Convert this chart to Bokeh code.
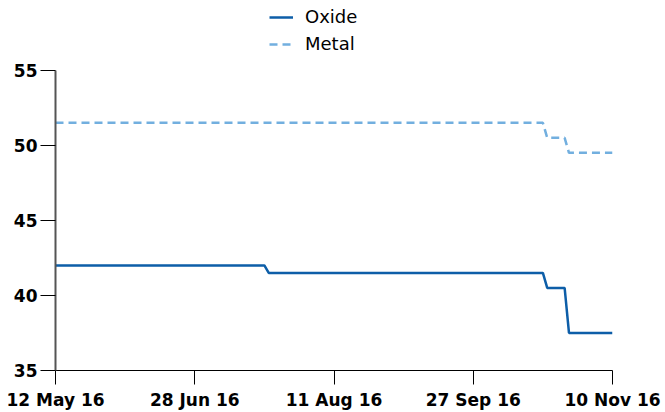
from bokeh.plotting import figure
from bokeh.models import Legend, LegendItem, FixedTicker, Range1d
from bokeh.embed import file_html
from bokeh.resources import INLINE

# x axis is an evenly spaced period index; labels at fixed index positions
tick_pos = [0, 32, 64, 96, 128]
tick_labels = ["12 May 16", "28 Jun 16", "11 Aug 16", "27 Sep 16", "10 Nov 16"]

oxide_x = [0, 48, 49, 112, 113, 117, 118, 128]
oxide_y = [42, 42, 41.5, 41.5, 40.5, 40.5, 37.5, 37.5]

metal_x = [0, 112, 113, 117, 118, 128]
metal_y = [51.5, 51.5, 50.5, 50.5, 49.5, 49.5]

y_ticks = [35, 40, 45, 50, 55]

FONT = "DejaVu Sans"
OXIDE = "#0d5ea8"
METAL = "#72afdf"

W, H = 665, 412
BORDER_B = 41
# frame reaches the top edge so the legend can sit above the 55 line;
# keep 20 value units per 301 px of frame height
frame_h = H - BORDER_B
y_top = 35 + 20 * frame_h / 301

p = figure(width=W, height=H, output_backend="svg", toolbar_location=None,
           x_range=Range1d(0, 128), y_range=Range1d(35, y_top),
           min_border_left=55, min_border_right=53, min_border_top=0,
           min_border_bottom=BORDER_B)
p.outline_line_color = None
p.xgrid.visible = False
p.ygrid.visible = False

r1 = p.line(oxide_x, oxide_y, line_color=OXIDE, line_width=2.5)
r2 = p.line(metal_x, metal_y, line_color=METAL, line_width=2.5, line_dash="8 5")

p.xaxis.ticker = FixedTicker(ticks=tick_pos)
p.xaxis.major_label_overrides = {pos: lab for pos, lab in zip(tick_pos, tick_labels)}
p.xaxis.axis_line_color = "black"
p.xaxis.axis_line_width = 1
p.xaxis.major_tick_line_color = "black"
p.xaxis.major_tick_in = 0
p.xaxis.major_tick_out = 14
p.xaxis.minor_tick_line_color = None
p.xaxis.major_label_standoff = 5
p.xaxis.major_label_text_font = FONT
p.xaxis.major_label_text_font_style = "bold"
p.xaxis.major_label_text_font_size = "17px"
p.xaxis.major_label_text_color = "black"

p.yaxis.ticker = FixedTicker(ticks=y_ticks)
p.yaxis.bounds = (35, 55)
p.yaxis.axis_line_color = "#555555"
p.yaxis.axis_line_width = 2
p.yaxis.major_tick_line_color = "black"
p.yaxis.major_tick_in = 0
p.yaxis.major_tick_out = 15
p.yaxis.minor_tick_line_color = None
p.yaxis.major_label_standoff = 3
p.yaxis.major_label_text_font = FONT
p.yaxis.major_label_text_font_style = "bold"
p.yaxis.major_label_text_font_size = "17px"
p.yaxis.major_label_text_color = "black"

legend = Legend(items=[LegendItem(label="Oxide", renderers=[r1]),
                       LegendItem(label="Metal", renderers=[r2])],
                location=(214, 316), orientation="vertical",
                border_line_color=None, background_fill_alpha=0,
                padding=0, margin=0, spacing=6,
                glyph_width=24, glyph_height=20, label_height=20,
                label_standoff=12, label_text_font=FONT,
                label_text_font_size="18px", label_text_color="black")
p.add_layout(legend)

open("out.html", "w").write(file_html(p, INLINE))
